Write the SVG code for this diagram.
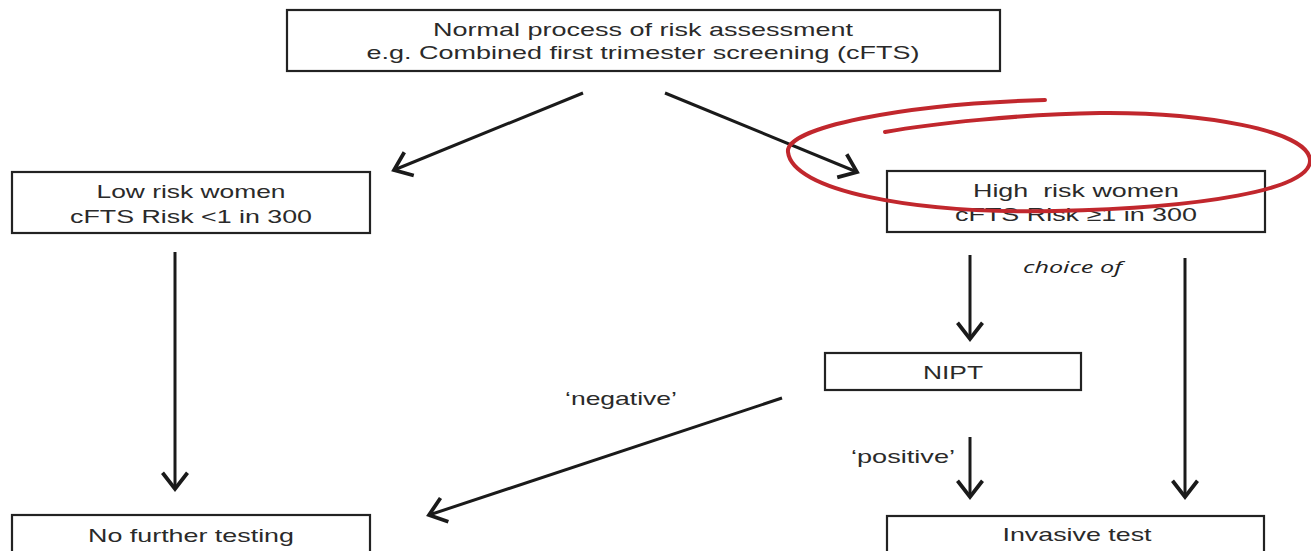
<svg xmlns="http://www.w3.org/2000/svg" width="1311" height="551" viewBox="0 0 1311 551">
<style>
.box{fill:#fff;stroke:#222;stroke-width:2.2}
.t{font-family:"Liberation Sans",Arial,sans-serif;font-size:19px;fill:#2a2a2a;text-anchor:middle}
.lbl{font-family:"Liberation Sans",Arial,sans-serif;font-size:19px;fill:#2a2a2a}
.it{font-family:"Open Sans","DejaVu Sans",sans-serif;font-style:italic;font-size:17px;fill:#222}
.c{fill:none;stroke:#1a1a1a;stroke-width:3}
</style>
<defs>
<marker id="ah" markerUnits="userSpaceOnUse" markerWidth="30" markerHeight="30" viewBox="-16 -12 18 24" refX="0" refY="0" orient="auto" overflow="visible">
<path d="M-13,-10 L0,0 L-13,10" fill="none" stroke="#1a1a1a" stroke-width="3" stroke-linejoin="miter"/>
</marker>
</defs>
<rect width="1311" height="551" fill="#fff"/>
<g id="connectors">
<line class="c" x1="583" y1="93" x2="394" y2="170" marker-end="url(#ah)"/>
<line class="c" x1="665" y1="93" x2="857" y2="172" marker-end="url(#ah)"/>
<line class="c" x1="175" y1="252" x2="175" y2="489" marker-end="url(#ah)"/>
<line class="c" x1="970" y1="255" x2="970" y2="339" marker-end="url(#ah)"/>
<line class="c" x1="1185" y1="258" x2="1185" y2="497" marker-end="url(#ah)"/>
<line class="c" x1="970" y1="437" x2="970" y2="497" marker-end="url(#ah)"/>
<line class="c" x1="782" y1="398" x2="429" y2="515" marker-end="url(#ah)"/>
</g>
<g id="top">
<rect class="box" x="287" y="10" width="713" height="61"/>
<text class="t" x="643" y="36" textLength="420" lengthAdjust="spacingAndGlyphs">Normal process of risk assessment</text>
<text class="t" x="643" y="59" textLength="553" lengthAdjust="spacingAndGlyphs">e.g. Combined first trimester screening (cFTS)</text>
</g>
<g id="low">
<rect class="box" x="12" y="172" width="358" height="61"/>
<text class="t" x="191" y="198" textLength="189" lengthAdjust="spacingAndGlyphs">Low risk women</text>
<text class="t" x="191" y="223" textLength="242" lengthAdjust="spacingAndGlyphs">cFTS Risk &lt;1 in 300</text>
</g>
<g id="high">
<rect class="box" x="887" y="171" width="378" height="61"/>
<text class="t" x="1076" y="197" textLength="206" lengthAdjust="spacingAndGlyphs">High&#160; risk women</text>
<text class="t" x="1076" y="221" textLength="242" lengthAdjust="spacingAndGlyphs">cFTS Risk ≥1 in 300</text>
</g>
<g id="nipt">
<rect class="box" x="825" y="353" width="256" height="37"/>
<text class="t" x="953" y="379" textLength="60" lengthAdjust="spacingAndGlyphs">NIPT</text>
</g>
<g id="nofurther">
<rect class="box" x="12" y="515" width="358" height="50"/>
<text class="t" x="191" y="542" textLength="206" lengthAdjust="spacingAndGlyphs">No further testing</text>
</g>
<g id="invasive">
<rect class="box" x="887" y="516" width="377" height="50"/>
<text class="t" x="1077" y="541" textLength="149" lengthAdjust="spacingAndGlyphs">Invasive test</text>
</g>
<g id="labels">
<text class="it" x="1023" y="273" textLength="99" lengthAdjust="spacingAndGlyphs">choice of</text>
<text class="lbl" x="565" y="405" textLength="112" lengthAdjust="spacingAndGlyphs">‘negative’</text>
<text class="lbl" x="851" y="463" textLength="104" lengthAdjust="spacingAndGlyphs">‘positive’</text>
</g>
<g id="highlight">
<path d="M1045,100 C900,104 785,128 788,152 C792,190 910,214 1055,211 C1200,208 1312,190 1310,160 C1308,130 1200,112 1100,113 C1020,114 930,124 885,132" fill="none" stroke="#c1272d" stroke-width="4" stroke-linecap="round"/>
</g>
</svg>
